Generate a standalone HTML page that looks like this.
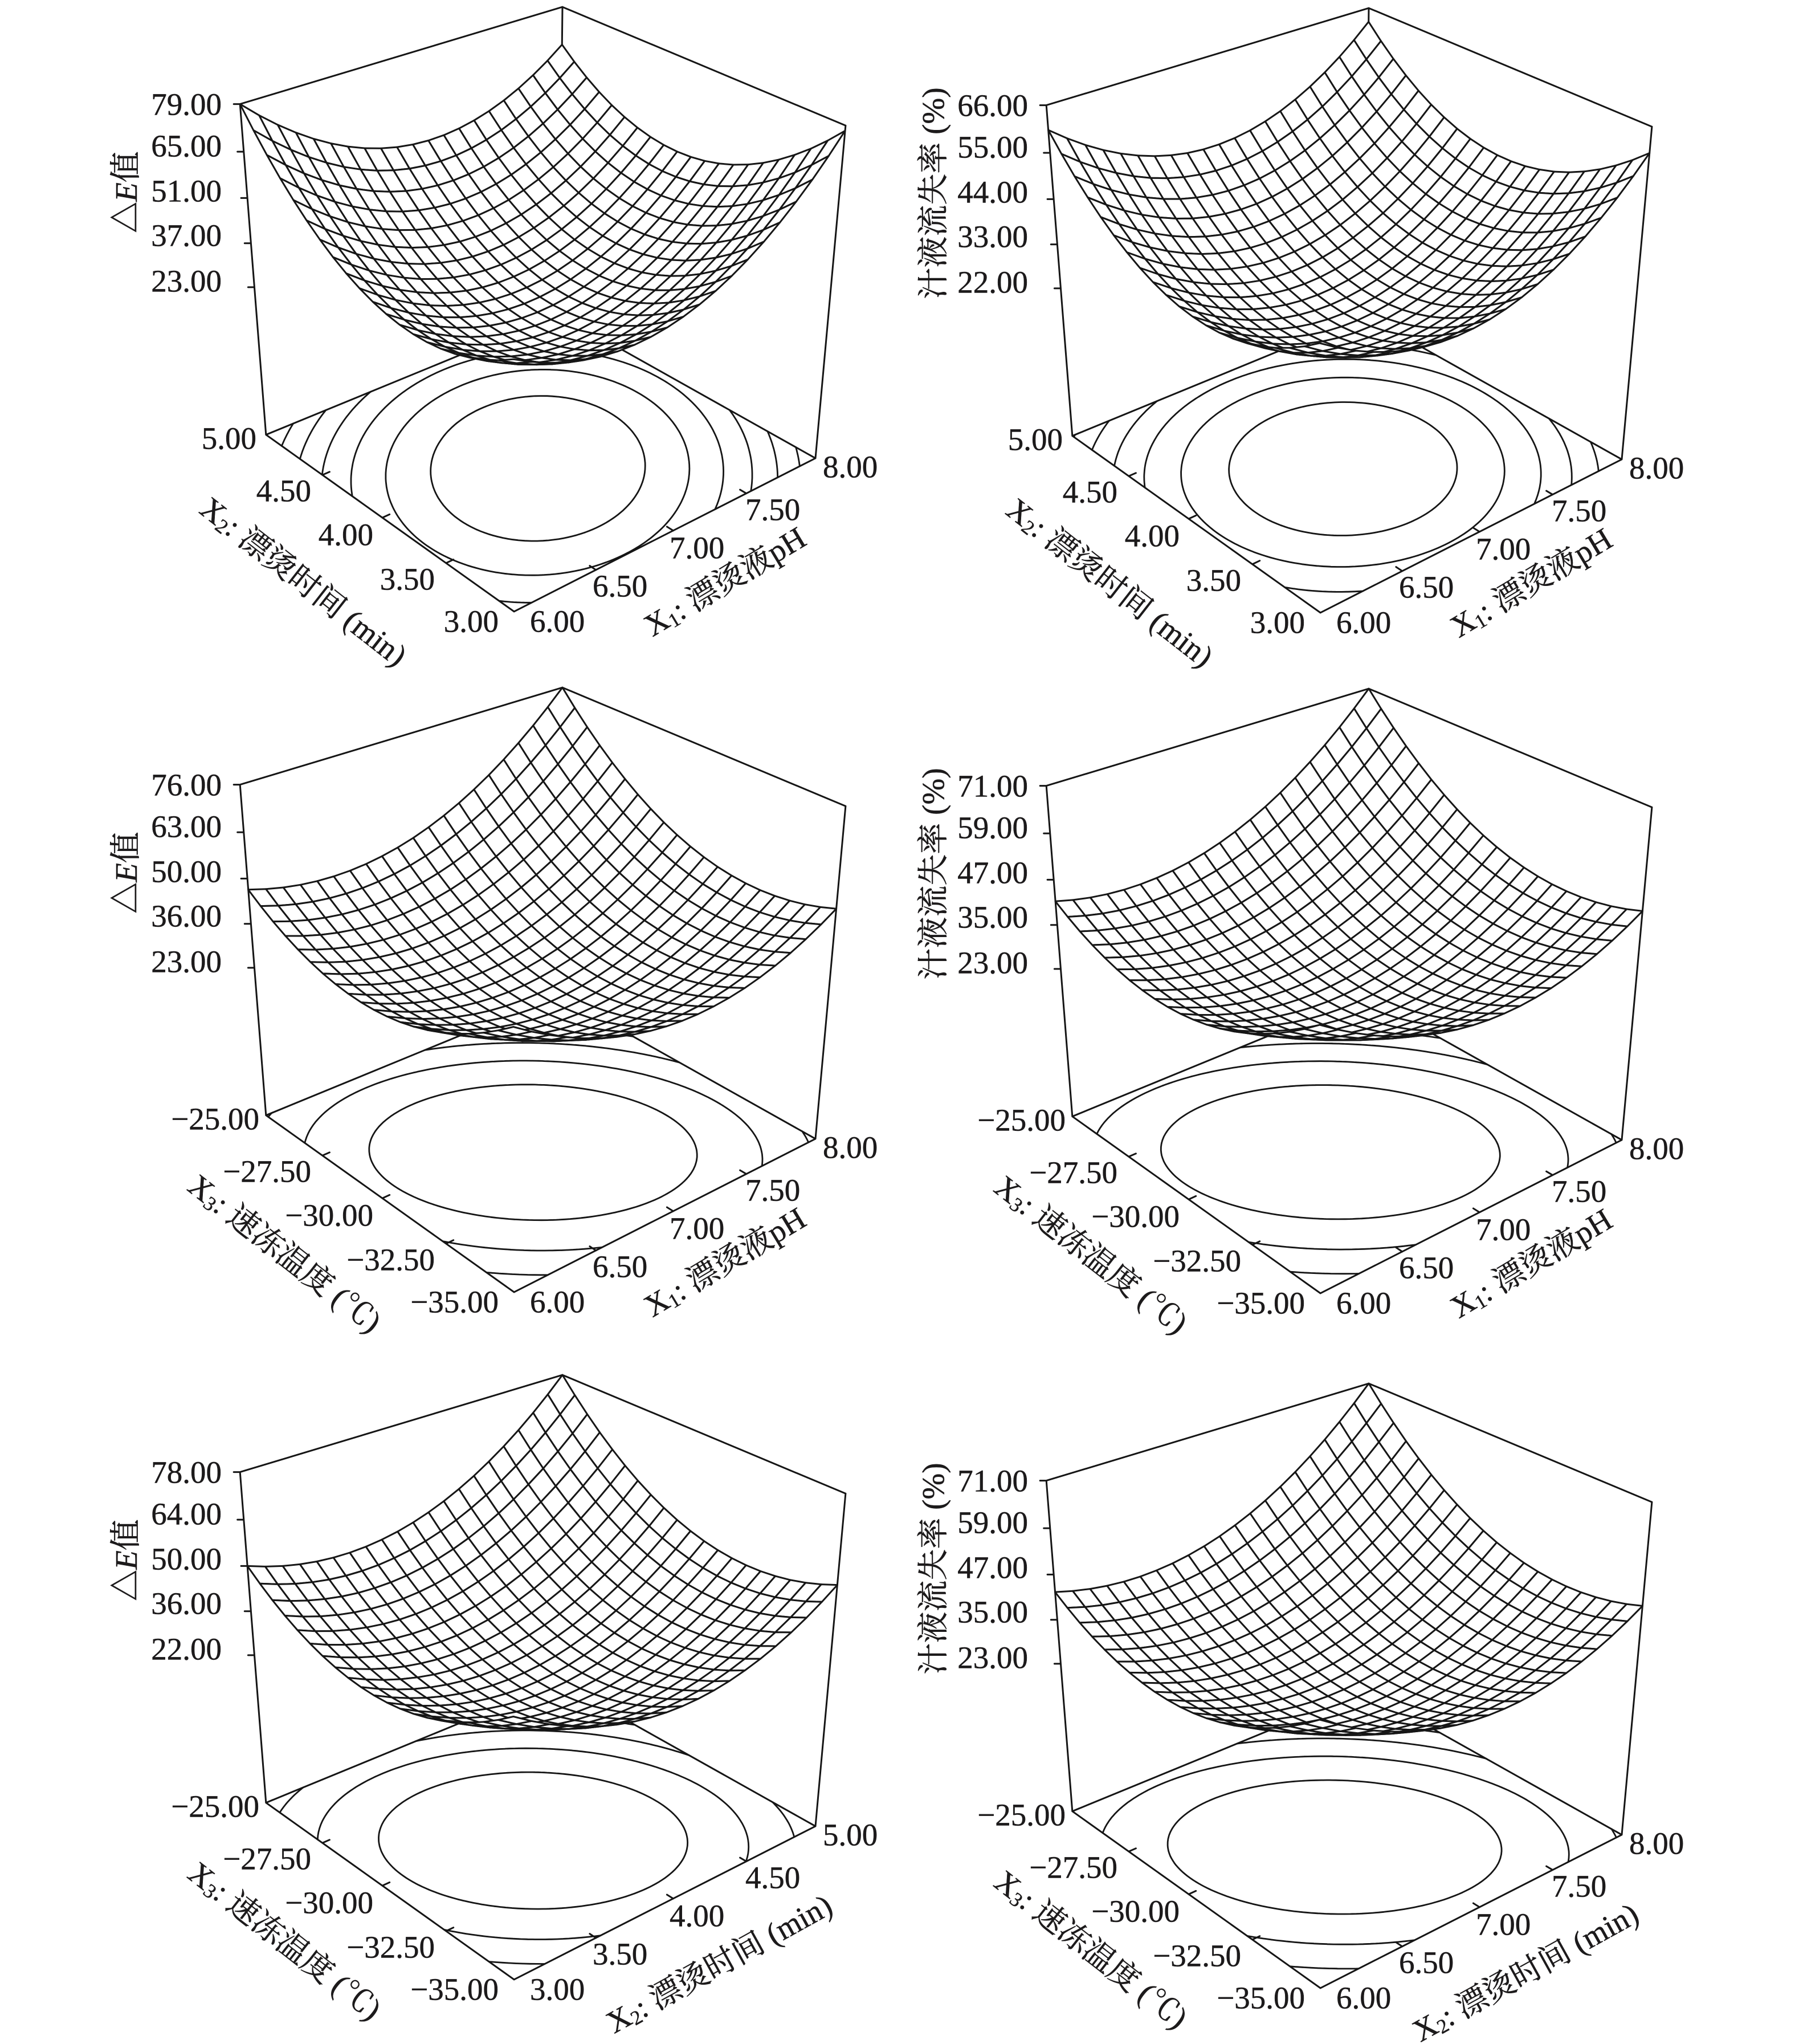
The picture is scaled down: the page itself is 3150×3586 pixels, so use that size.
<!DOCTYPE html>
<html><head><meta charset="utf-8">
<style>
html,body{margin:0;padding:0;background:#fff;}
svg{display:block;background:#fff;}
text{font-family:"Liberation Serif","Noto Serif CJK SC",serif;font-size:55px;fill:#1c1a1b;stroke:#1c1a1b;stroke-width:0.5px;dominant-baseline:central;}
.e{text-anchor:end}.m{text-anchor:middle}.s{text-anchor:start}
.ln{fill:none;stroke:#151515;stroke-width:3;stroke-linecap:round;stroke-linejoin:round}
.ct{fill:none;stroke:#151515;stroke-width:2.8;stroke-linecap:round;stroke-linejoin:round}
.sf{fill:#fff;stroke:#161616;stroke-width:3;stroke-linejoin:round}
</style></head>
<body>
<svg id="root" width="3150" height="3586" viewBox="0 0 3150 3586" xmlns="http://www.w3.org/2000/svg">
<g id="g"></g>

<!-- Panel 1 -->
<g transform="translate(0,0)">
<text class="e" x="389" y="183">79.00</text>
<text class="e" x="389" y="256">65.00</text>
<text class="e" x="389" y="335">51.00</text>
<text class="e" x="389" y="413">37.00</text>
<text class="e" x="389" y="493">23.00</text>
<text class="m" transform="translate(221,337) rotate(-90)">△<tspan font-style="italic">E</tspan>值</text>
<text class="e" x="450" y="769">5.00</text>
<text class="e" x="546" y="861">4.50</text>
<text class="e" x="655" y="938">4.00</text>
<text class="e" x="763" y="1016">3.50</text>
<text class="e" x="875" y="1090">3.00</text>
<text class="s" x="930" y="1090">6.00</text>
<text class="s" x="1040" y="1028">6.50</text>
<text class="s" x="1175" y="961">7.00</text>
<text class="s" x="1308" y="894">7.50</text>
<text class="s" x="1444" y="819">8.00</text>
<text class="m" transform="translate(533,1020) rotate(38)">X<tspan font-size="35" dy="12">2</tspan><tspan dy="-12">: 漂烫时间 (min)</tspan></text>
<text class="m" transform="translate(1272,1020) rotate(-31)">X<tspan font-size="35" dy="12">1</tspan><tspan dy="-12">: 漂烫液pH</tspan></text>
</g>

<!-- Panel 2 -->
<g transform="translate(1415,2)">
<text class="e" x="389" y="183">66.00</text>
<text class="e" x="389" y="256">55.00</text>
<text class="e" x="389" y="335">44.00</text>
<text class="e" x="389" y="413">33.00</text>
<text class="e" x="389" y="493">22.00</text>
<text class="m" transform="translate(223,337) rotate(-90)">汁液流失率 (%)</text>
<text class="e" x="450" y="769">5.00</text>
<text class="e" x="546" y="861">4.50</text>
<text class="e" x="655" y="938">4.00</text>
<text class="e" x="763" y="1016">3.50</text>
<text class="e" x="875" y="1090">3.00</text>
<text class="s" x="930" y="1090">6.00</text>
<text class="s" x="1040" y="1028">6.50</text>
<text class="s" x="1175" y="961">7.00</text>
<text class="s" x="1308" y="894">7.50</text>
<text class="s" x="1444" y="819">8.00</text>
<text class="m" transform="translate(533,1020) rotate(38)">X<tspan font-size="35" dy="12">2</tspan><tspan dy="-12">: 漂烫时间 (min)</tspan></text>
<text class="m" transform="translate(1272,1020) rotate(-31)">X<tspan font-size="35" dy="12">1</tspan><tspan dy="-12">: 漂烫液pH</tspan></text>
</g>

<!-- Panel 3 -->
<g transform="translate(0,1194)">
<text class="e" x="389" y="183">76.00</text>
<text class="e" x="389" y="256">63.00</text>
<text class="e" x="389" y="335">50.00</text>
<text class="e" x="389" y="413">36.00</text>
<text class="e" x="389" y="493">23.00</text>
<text class="m" transform="translate(221,337) rotate(-90)">△<tspan font-style="italic">E</tspan>值</text>
<text class="e" x="455" y="769">−25.00</text>
<text class="e" x="546" y="861">−27.50</text>
<text class="e" x="655" y="938">−30.00</text>
<text class="e" x="763" y="1016">−32.50</text>
<text class="e" x="875" y="1090">−35.00</text>
<text class="s" x="930" y="1090">6.00</text>
<text class="s" x="1040" y="1028">6.50</text>
<text class="s" x="1175" y="961">7.00</text>
<text class="s" x="1308" y="894">7.50</text>
<text class="s" x="1444" y="819">8.00</text>
<text class="m" transform="translate(500,1005) rotate(38)">X<tspan font-size="35" dy="12">3</tspan><tspan dy="-12">: 速冻温度 (℃)</tspan></text>
<text class="m" transform="translate(1272,1020) rotate(-31)">X<tspan font-size="35" dy="12">1</tspan><tspan dy="-12">: 漂烫液pH</tspan></text>
</g>

<!-- Panel 4 -->
<g transform="translate(1415,1196)">
<text class="e" x="389" y="183">71.00</text>
<text class="e" x="389" y="256">59.00</text>
<text class="e" x="389" y="335">47.00</text>
<text class="e" x="389" y="413">35.00</text>
<text class="e" x="389" y="493">23.00</text>
<text class="m" transform="translate(223,337) rotate(-90)">汁液流失率 (%)</text>
<text class="e" x="455" y="769">−25.00</text>
<text class="e" x="546" y="861">−27.50</text>
<text class="e" x="655" y="938">−30.00</text>
<text class="e" x="763" y="1016">−32.50</text>
<text class="e" x="875" y="1090">−35.00</text>
<text class="s" x="930" y="1090">6.00</text>
<text class="s" x="1040" y="1028">6.50</text>
<text class="s" x="1175" y="961">7.00</text>
<text class="s" x="1308" y="894">7.50</text>
<text class="s" x="1444" y="819">8.00</text>
<text class="m" transform="translate(500,1005) rotate(38)">X<tspan font-size="35" dy="12">3</tspan><tspan dy="-12">: 速冻温度 (℃)</tspan></text>
<text class="m" transform="translate(1272,1020) rotate(-31)">X<tspan font-size="35" dy="12">1</tspan><tspan dy="-12">: 漂烫液pH</tspan></text>
</g>

<!-- Panel 5 -->
<g transform="translate(0,2400)">
<text class="e" x="389" y="183">78.00</text>
<text class="e" x="389" y="256">64.00</text>
<text class="e" x="389" y="335">50.00</text>
<text class="e" x="389" y="413">36.00</text>
<text class="e" x="389" y="493">22.00</text>
<text class="m" transform="translate(221,337) rotate(-90)">△<tspan font-style="italic">E</tspan>值</text>
<text class="e" x="455" y="769">−25.00</text>
<text class="e" x="546" y="861">−27.50</text>
<text class="e" x="655" y="938">−30.00</text>
<text class="e" x="763" y="1016">−32.50</text>
<text class="e" x="875" y="1090">−35.00</text>
<text class="s" x="930" y="1090">3.00</text>
<text class="s" x="1040" y="1028">3.50</text>
<text class="s" x="1175" y="961">4.00</text>
<text class="s" x="1308" y="894">4.50</text>
<text class="s" x="1444" y="819">5.00</text>
<text class="m" transform="translate(500,1005) rotate(38)">X<tspan font-size="35" dy="12">3</tspan><tspan dy="-12">: 速冻温度 (℃)</tspan></text>
<text class="m" transform="translate(1262,1045) rotate(-29)">X<tspan font-size="35" dy="12">2</tspan><tspan dy="-12">: 漂烫时间 (min)</tspan></text>
</g>

<!-- Panel 6 -->
<g transform="translate(1415,2415)">
<text class="e" x="389" y="183">71.00</text>
<text class="e" x="389" y="256">59.00</text>
<text class="e" x="389" y="335">47.00</text>
<text class="e" x="389" y="413">35.00</text>
<text class="e" x="389" y="493">23.00</text>
<text class="m" transform="translate(223,337) rotate(-90)">汁液流失率 (%)</text>
<text class="e" x="455" y="769">−25.00</text>
<text class="e" x="546" y="861">−27.50</text>
<text class="e" x="655" y="938">−30.00</text>
<text class="e" x="763" y="1016">−32.50</text>
<text class="e" x="875" y="1090">−35.00</text>
<text class="s" x="930" y="1090">6.00</text>
<text class="s" x="1040" y="1028">6.50</text>
<text class="s" x="1175" y="961">7.00</text>
<text class="s" x="1308" y="894">7.50</text>
<text class="s" x="1444" y="819">8.00</text>
<text class="m" transform="translate(500,1005) rotate(38)">X<tspan font-size="35" dy="12">3</tspan><tspan dy="-12">: 速冻温度 (℃)</tspan></text>
<text class="m" transform="translate(1262,1045) rotate(-29)">X<tspan font-size="35" dy="12">2</tspan><tspan dy="-12">: 漂烫时间 (min)</tspan></text>
</g>
</svg>

<script>
(function(){
var base={TB:[987,13],TL:[421,182],TR:[1484,220],BL:[467,764],BF:[902,1072],BR:[1431,805],BB:[981,550]};
var H0=0.47,N=20,M=90;
var panels=[
 {dx:0,dy:0,zmin:23,zmax:79,L:79,R:77.5,B:67,F:50,C:23.5},
 {dx:1415,dy:2,zmin:22,zmax:66,L:60.3,R:60,B:62.6,F:47,C:22.5},
 {dx:0,dy:1194,zmin:23,zmax:76,L:46.3,R:47.2,B:76,F:52,C:23.5},
 {dx:1415,dy:1196,zmin:23,zmax:71,L:41.3,R:44.6,B:71,F:50,C:23.5},
 {dx:0,dy:2400,zmin:22,zmax:78,L:50,R:51,B:78,F:52,C:22.5},
 {dx:1415,dy:2415,zmin:23,zmax:71,L:42.4,R:44.6,B:71,F:50,C:23.5}
];
function solve(A,b){
 var n=b.length,i,r,c;
 for(i=0;i<n;i++){
  var m=i;
  for(r=i+1;r<n;r++) if(Math.abs(A[r][i])>Math.abs(A[m][i])) m=r;
  var tmp=A[i];A[i]=A[m];A[m]=tmp; tmp=b[i];b[i]=b[m];b[m]=tmp;
  for(r=i+1;r<n;r++){
   var f=A[r][i]/A[i][i];
   for(c=i;c<n;c++) A[r][c]-=f*A[i][c];
   b[r]-=f*b[i];
  }
 }
 var x=new Array(n).fill(0);
 for(i=n-1;i>=0;i--){
  var s=b[i];
  for(c=i+1;c<n;c++) s-=A[i][c]*x[c];
  x[i]=s/A[i][i];
 }
 return x;
}
function fitP(pts){
 var rows=[],rhs=[];
 pts.forEach(function(q){
  var X=q[0],Y=q[1],Z=q[2],x=q[3],y=q[4];
  rows.push([X,Y,Z,1,0,0,0,0,-x*X,-x*Y,-x*Z]); rhs.push(x);
  rows.push([0,0,0,0,X,Y,Z,1,-y*X,-y*Y,-y*Z]); rhs.push(y);
 });
 var n=11,A=[],b=[],i,j;
 for(i=0;i<n;i++){A.push(new Array(n).fill(0));b.push(0);}
 rows.forEach(function(r,k){
  for(i=0;i<n;i++){b[i]+=r[i]*rhs[k];for(j=0;j<n;j++) A[i][j]+=r[i]*r[j];}
 });
 return solve(A,b);
}
function fmt(p){return p[0].toFixed(1)+' '+p[1].toFixed(1);}
var html='';
panels.forEach(function(pn){
 var defs=[[1,1,1,'TB'],[0,1,1,'TL'],[1,0,1,'TR'],[0,1,0,'BL'],[0,0,0,'BF'],[1,0,0,'BR'],[1,1,0,'BB']];
 var pts=defs.map(function(d){return [d[0],d[1],d[2],base[d[3]][0]+pn.dx,base[d[3]][1]+pn.dy];});
 var cx=0,cy=0;pts.forEach(function(q){cx+=q[3];cy+=q[4];});cx/=pts.length;cy/=pts.length;
 var S=500;
 var P=fitP(pts.map(function(q){return [q[0],q[1],q[2],(q[3]-cx)/S,(q[4]-cy)/S];}));
 function pr(X,Y,Z){var w=P[8]*X+P[9]*Y+P[10]*Z+1;return [cx+S*(P[0]*X+P[1]*Y+P[2]*Z+P[3])/w,cy+S*(P[4]*X+P[5]*Y+P[6]*Z+P[7])/w];}
 var L=pn.L,R=pn.R,B=pn.B,F=pn.F,C=pn.C;
 var sum=(L+B+R+F)/4,Aq=(sum-C)/2,e=(B-L-R+F)/4,p=(B-L+R-F)/4,q=(B-R+L-F)/4;
 function f(s,t){var a=2*s-1,b=2*t-1;return C+Aq*a*a+Aq*b*b+e*a*b+p*a+q*b;}
 function hz(z){return H0+(1-H0)*(z-pn.zmin)/(pn.zmax-pn.zmin);}
 var V=[],i,j;
 for(i=0;i<=M;i++){V.push([]);for(j=0;j<=M;j++) V[i].push(f(i/M,j/M)+1e-9*(i*0.37+j*0.61));}
 var dpath='';
 for(var k=1;k<=6;k++){
  var lv=pn.zmin+k*(pn.zmax-pn.zmin)/7;
  for(i=0;i<M;i++)for(j=0;j<M;j++){
   var v00=V[i][j],v10=V[i+1][j],v11=V[i+1][j+1],v01=V[i][j+1];
   var P0=[];
   var s0=i/M,s1=(i+1)/M,t0=j/M,t1=(j+1)/M;
   var ip=function(va,vb,sa,ta,sb,tb){var r=(lv-va)/(vb-va);P0.push([sa+(sb-sa)*r,ta+(tb-ta)*r]);};
   if((v00>=lv)!=(v10>=lv)) ip(v00,v10,s0,t0,s1,t0);
   if((v10>=lv)!=(v11>=lv)) ip(v10,v11,s1,t0,s1,t1);
   if((v01>=lv)!=(v11>=lv)) ip(v01,v11,s0,t1,s1,t1);
   if((v00>=lv)!=(v01>=lv)) ip(v00,v01,s0,t0,s0,t1);
   for(var m=0;m+1<P0.length;m+=2){
    dpath+='M'+fmt(pr(P0[m][0],P0[m][1],0))+'L'+fmt(pr(P0[m+1][0],P0[m+1][1],0));
   }
  }
 }
 html+='<path class="ct" d="'+dpath+'"/>';
 var edges=[[[0,1,1],[1,1,1]],[[1,1,1],[1,0,1]],[[0,1,1],[0,1,0]],[[1,1,1],[1,1,0]],[[1,0,1],[1,0,0]],
  [[0,1,0],[1,1,0]],[[1,1,0],[1,0,0]],[[0,1,0],[0,0,0]],[[0,0,0],[1,0,0]]];
 var bp='';
 edges.forEach(function(ed){bp+='M'+fmt(pr(ed[0][0],ed[0][1],ed[0][2]))+'L'+fmt(pr(ed[1][0],ed[1][1],ed[1][2]));});
 for(k=0;k<=4;k++){
  var hh=H0+(1-H0)*k/4,a0=pr(0,1,hh);
  bp+='M'+fmt(a0)+'L'+fmt([a0[0]-11,a0[1]]);
  bp+='M'+fmt(pr(0,k/4,0))+'L'+fmt(pr(0.022,k/4,0));
  bp+='M'+fmt(pr(k/4,0,0))+'L'+fmt(pr(k/4,0.022,0));
 }
 html+='<path class="ln" d="'+bp+'"/>';
 var d=[P[1]*P[6]-P[2]*P[5],P[2]*P[4]-P[0]*P[6],P[0]*P[5]-P[1]*P[4]];
 if(d[2]<0){d=[-d[0],-d[1],-d[2]];}
 var G=[];
 for(i=0;i<=N;i++){G.push([]);for(j=0;j<=N;j++){var s=i/N,t=j/N,h=hz(f(s,t));G[i].push({X:[s,t,h],p:pr(s,t,h)});}}
 var quads=[];
 for(i=0;i<N;i++)for(j=0;j<N;j++){
  var a=G[i][j],b=G[i+1][j],c=G[i+1][j+1],dd=G[i][j+1];
  var cen=[0,1,2].map(function(kk){return (a.X[kk]+b.X[kk]+c.X[kk]+dd.X[kk])/4;});
  var dep=cen[0]*d[0]+cen[1]*d[1]+cen[2]*d[2];
  quads.push([dep,'M'+fmt(a.p)+'L'+fmt(b.p)+'L'+fmt(c.p)+'L'+fmt(dd.p)+'Z']);
 }
 quads.sort(function(x,y){return x[0]-y[0];});
 quads.forEach(function(qq){html+='<path class="sf" d="'+qq[1]+'"/>';});
});
document.getElementById('g').innerHTML=html;
})();
</script>
</body></html>
